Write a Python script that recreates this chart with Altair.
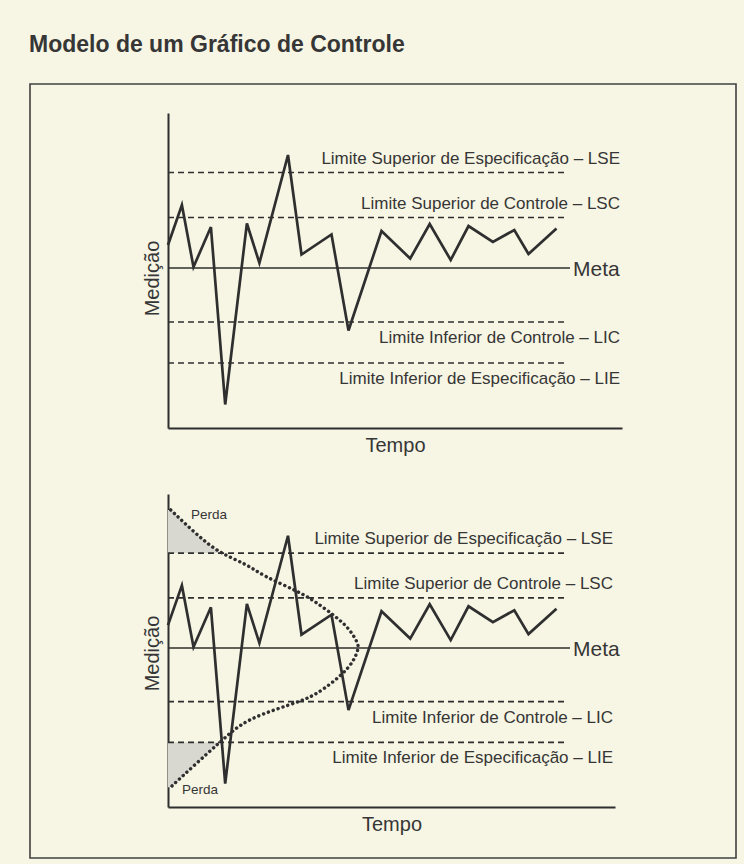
import altair as alt
import pandas as pd

# ---------------- data ----------------
TITLE = "Modelo de um Gráfico de Controle"
X_TITLE = "Tempo"
Y_TITLE = "Medição"

# measured process values (time in arbitrary units, measurement relative to the target "Meta")
tempo = [0.0, 1.39, 2.55, 4.29, 5.72, 7.89, 9.14, 12.0, 13.35, 16.35,
         18.05, 21.35, 24.22, 26.17, 28.27, 30.05, 32.49, 34.63, 36.05, 38.85]
medicao = [2.3, 6.3, 0.1, 4.1, -13.65, 4.45, 0.5, 11.3, 1.35, 3.35,
           -6.25, 3.7, 0.95, 4.4, 0.8, 4.2, 2.6, 3.8, 1.4, 3.95]

# limit lines
limit_labels = ["Limite Superior de Especificação – LSE",
                "Limite Superior de Controle – LSC",
                "Limite Inferior de Controle – LIC",
                "Limite Inferior de Especificação – LIE"]
limit_values = [9.55, 5.05, -5.4, -9.5]
limit_side = ["above", "above", "below", "below"]
limit_end = 40.0

meta_label = "Meta"
meta_value = 0.0
meta_end = 40.2

# distribution curve (bottom chart), traced from top to bottom
curve_t = [0.27, 2.77, 5.1, 7.77, 9.6, 12.9, 14.7, 16.77, 18.1, 19.0, 19.05,
           18.77, 18.1, 16.44, 14.77, 13.4, 10.77, 8.1, 6.5, 5.17, 2.77, 0.27]
curve_m = [13.9, 11.5, 9.56, 8.5, 7.2, 5.76, 4.7, 3.16, 2.0, 0.5, 0.0,
           -0.84, -2.0, -3.5, -4.67, -5.3, -6.17, -7.17, -8.3, -9.5, -11.67, -14.0]

# shaded loss areas (outside the specification limits)
perda_top_m = [13.9, 11.5, 9.55]
perda_top_t = [0.27, 2.77, 5.1]
perda_bot_m = [-9.5, -11.67, -14.0]
perda_bot_t = [5.17, 2.77, 0.27]

perda_labels = ["Perda", "Perda"]
perda_label_t = [2.3, 1.4]
perda_label_m = [13.4, -14.3]

Y_DOMAIN = [-16.0, 15.5]

# ---------------- styles ----------------
FONT = "Liberation Sans, Arial, Helvetica, sans-serif"
INK = "#2f2f2f"
TEXT = "#363636"
BG = "#f7f5e4"
SHADE = "#d8d8d1"

series = pd.DataFrame({"t": tempo, "m": medicao})
limits = pd.DataFrame({"label": limit_labels, "value": limit_values,
                       "side": limit_side, "t0": 0.0, "t1": limit_end})
meta = pd.DataFrame({"label": [meta_label], "value": [meta_value],
                     "t0": [0.0], "t1": [meta_end]})
curve = pd.DataFrame({"t": curve_t, "m": curve_m, "i": list(range(len(curve_t)))})
shade = pd.concat([
    pd.DataFrame({"t": perda_top_t, "m": perda_top_m, "g": "top", "base": 0.0}),
    pd.DataFrame({"t": perda_bot_t, "m": perda_bot_m, "g": "bot", "base": 0.0}),
])
perda = pd.DataFrame({"t": perda_label_t, "m": perda_label_m, "label": perda_labels})
blank = pd.DataFrame({"a": [1]})


def panel(w, h, xmax, title_y, with_curve, first):
    xs = alt.Scale(domain=[0, xmax], nice=False, zero=False)
    ys = alt.Scale(domain=Y_DOMAIN, nice=False, zero=False)
    ax = alt.Axis(title=X_TITLE, ticks=False, labels=False, grid=False,
                  domainColor=INK, domainWidth=2, titleFont=FONT, titleFontSize=20,
                  titleFontWeight="normal", titleColor=TEXT, titlePadding=7)
    ay = alt.Axis(title=Y_TITLE, ticks=False, labels=False, grid=False,
                  domainColor=INK, domainWidth=2, titleFont=FONT, titleFontSize=20,
                  titleFontWeight="normal", titleColor=TEXT, titlePadding=6,
                  titleY=title_y)

    def X(f):
        return alt.X(f, scale=xs, axis=ax, title=X_TITLE)

    def Y(f):
        return alt.Y(f, scale=ys, axis=ay, title=Y_TITLE)

    layers = []
    if first:
        layers.append(alt.Chart(blank).mark_rect(opacity=0).encode(
            x=alt.value(-168), x2=alt.value(576), y=alt.value(-113), y2=alt.value(751)))
        layers.append(alt.Chart(blank).mark_rect(filled=False, stroke="#404040", strokeWidth=1.6).encode(
            x=alt.value(-138), x2=alt.value(568), y=alt.value(-29), y2=alt.value(745)))
        layers.append(alt.Chart(blank).mark_text(
            text=TITLE, align="left", baseline="alphabetic", font=FONT,
            fontSize=23, fontWeight="bold", color=TEXT).encode(
            x=alt.value(-139), y=alt.value(-61)))
    if with_curve:
        for g in ["top", "bot"]:
            layers.append(alt.Chart(shade).transform_filter(alt.datum.g == g)
                          .mark_area(orient="horizontal", color=SHADE)
                          .encode(y=Y("m:Q"), x=X("t:Q"), x2="base:Q"))
    layers.append(alt.Chart(limits).mark_rule(strokeDash=[6, 4], strokeWidth=1.6, color=INK).encode(
        x=X("t0:Q"), x2="t1:Q", y=Y("value:Q")))
    layers.append(alt.Chart(meta).mark_rule(strokeWidth=1.6, color=INK).encode(
        x=X("t0:Q"), x2="t1:Q", y=Y("value:Q")))
    if with_curve:
        layers.append(alt.Chart(curve).mark_line(
            color=INK, strokeWidth=3.4, strokeDash=[0.1, 5], strokeCap="round",
            interpolate="basis").encode(
            x=X("t:Q"), y=Y("m:Q"), order="i:Q"))
        layers.append(alt.Chart(perda).mark_text(
            align="left", baseline="middle", font=FONT, fontSize=13.5, color=TEXT).encode(
            x=X("t:Q"), y=Y("m:Q"), text="label:N"))
    layers.append(alt.Chart(series).mark_line(color=INK, strokeWidth=2.7).encode(
        x=X("t:Q"), y=Y("m:Q")))
    for side, dy in [("above", -14), ("below", 16)]:
        layers.append(alt.Chart(limits).transform_filter(alt.datum.side == side).mark_text(
            align="right", baseline="middle", dx=-2, dy=dy, font=FONT,
            fontSize=17, color=TEXT).encode(
            x=alt.X(datum=xmax, type="quantitative", scale=xs, axis=ax, title=X_TITLE),
            y=Y("value:Q"),
            text="label:N"))
    layers.append(alt.Chart(meta).mark_text(
        align="left", baseline="middle", dx=3, dy=2, font=FONT,
        fontSize=21, color=TEXT).encode(
        x=X("t1:Q"), y=Y("value:Q"), text="label:N"))
    return alt.layer(*layers).properties(width=w, height=h)


top = panel(454, 315, 45.4, 165, False, True)
bottom = panel(447, 313, 44.7, 159, True, False)

chart = alt.vconcat(top, bottom, spacing=66, bounds="flush").configure_view(
    stroke=None).properties(padding=0, background=BG)

chart.save("out.html", embed_options={"renderer": "svg", "actions": False})
